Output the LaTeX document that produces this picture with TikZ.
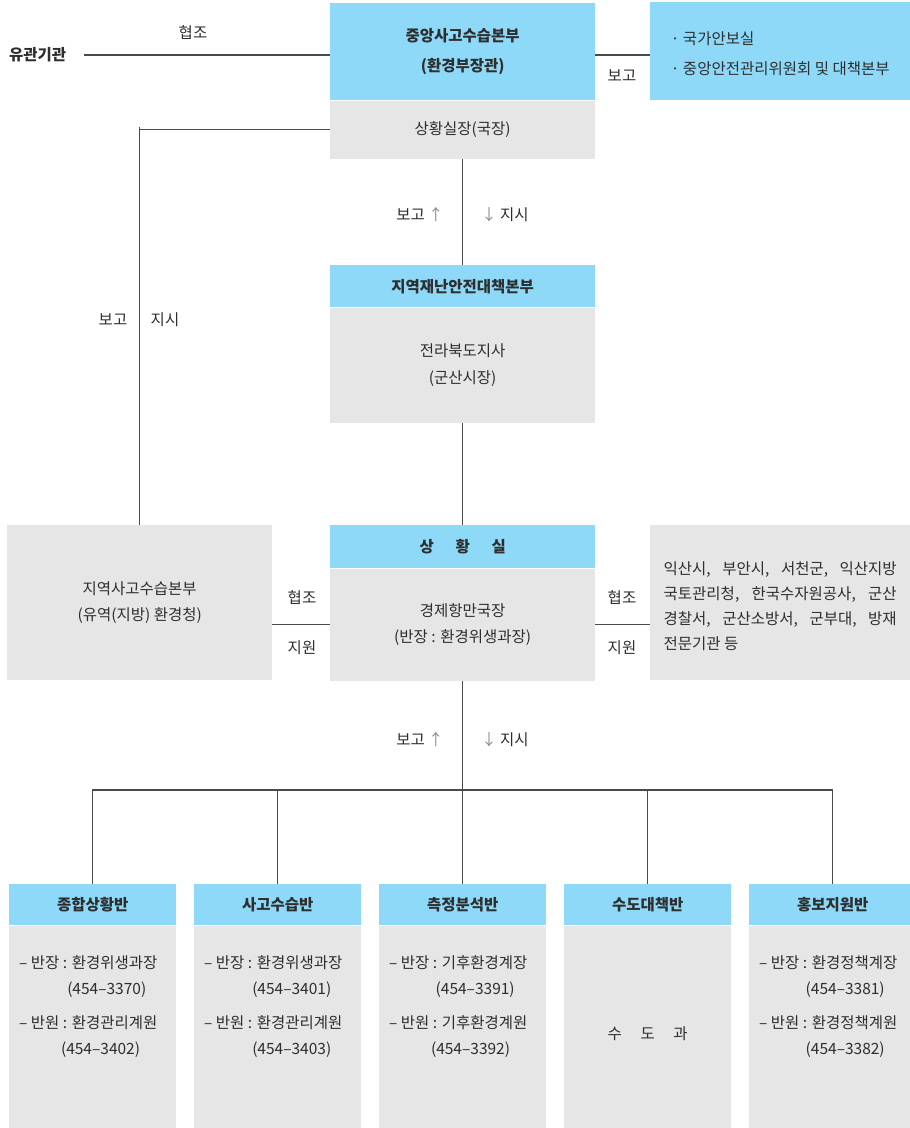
\documentclass[tikz,border=0pt]{standalone}
\usepackage{fontspec}
\setmainfont{Noto Sans CJK KR}
\usetikzlibrary{positioning}
\definecolor{skyblue}{HTML}{8ED8F8}
\definecolor{panel}{HTML}{E6E6E6}
\definecolor{ink}{HTML}{2E2E2E}
\definecolor{wire}{HTML}{4A4A4A}
\definecolor{arrowgray}{HTML}{8C8C8C}
\newcommand{\fsmain}{\fontsize{15.5}{26}\selectfont}
\newcommand{\teamlist}[6]{– 반장 : #3\\\hspace*{#1}(#4)\\[8pt]– 반원 : #5\\\hspace*{#2}(#6)}
\tikzset{
  headbox/.style={fill=skyblue,inner sep=0pt,minimum width=265pt,
                  align=center,font=\fsmain\bfseries,text=ink},
  bodybox/.style={fill=panel,inner sep=0pt,minimum width=265pt,
                  align=center,font=\fsmain,text=ink},
  link/.style={draw=wire,line width=1.2pt},
  tag/.style={font=\fsmain,text=ink,inner sep=1pt},
  teamtext/.style={tag,align=left,anchor=north west}
}

\begin{document}
\begin{tikzpicture}[x=1pt,y=-1pt]
  \useasboundingbox (0,0) rectangle (910,1128);
  % central headquarters
  \node[headbox,minimum height=97pt,anchor=north west] (hq) at (330,3)
    {중앙사고수습본부\\[4pt](환경부장관)};
  \node[bodybox,minimum height=58pt,below=0pt of hq] (hqroom) {상황실장(국장)};
  \node[headbox,minimum width=260pt,minimum height=98pt,anchor=north west] (nat) at (650,2) {};
  \node[tag,align=left] (nattext) at ([yshift=-2pt]nat.center)
    {· 국가안보실\\[4pt]· 중앙안전관리위원회 및 대책본부};
  \node[tag,font=\fsmain\bfseries,anchor=west] (agency) at (8,55) {유관기관};
  \draw[link] ([xshift=17pt]agency.east) -- (agency.east -| hq.west);
  \node[tag] at (193,33) {협조};
  \draw[link] (agency.east -| hq.east) -- (agency.east -| nat.west);
  \node[tag] at (622,76) {보고};

  % regional disaster headquarters
  \node[headbox,minimum height=42pt,anchor=north west] (dmb) at (330,265)
    {지역재난안전대책본부};
  \node[bodybox,minimum height=115pt,below=0pt of dmb] (dmbbody)
    {전라북도지사\\[1pt](군산시장)};
  \draw[link] (hqroom.south) -- (dmb.north);
  \node[tag] at (420,215) {보고 \textcolor{arrowgray}{↑}};
  \node[tag] at (505,215) {\textcolor{arrowgray}{↓} 지시};

  % situation room and partners
  \node[headbox,minimum height=43pt,anchor=north west] (sit) at (330,525)
    {상\hspace{1.4em}황\hspace{1.4em}실};
  \node[bodybox,minimum height=112pt,below=0pt of sit] (sitbody)
    {경제항만국장\\(반장 : 환경위생과장)};
  \draw[link] (dmbbody.south) -- (sit.north);
  \node[bodybox,minimum height=155pt,anchor=north west] (regional) at (7,525)
    {지역사고수습본부\\(유역(지방) 환경청)};
  \node[bodybox,minimum width=260pt,minimum height=155pt,anchor=north west] (local) at (650,525) {};
  \node[tag,align=left,font=\fontsize{15.5}{25}\selectfont] (localtext) at ([yshift=-3pt]local.center)
    {\makebox[233pt][s]{익산시, 부안시, 서천군, 익산지방}\\
     \makebox[233pt][s]{국토관리청, 한국수자원공사, 군산}\\
     \makebox[233pt][s]{경찰서, 군산소방서, 군부대, 방재}\\
     전문기관 등};
  \draw[link] (hqroom.west) -| (regional.north);
  \draw[link] (regional.north |- hqroom.west) -- ++(0,-3);
  \node[tag] at (113,320) {보고};
  \node[tag] at (165,320) {지시};
  \draw[link] (sitbody.west -| regional.east) -- (sitbody.west);
  \node[tag] at (302,598) {협조};
  \node[tag] at (302,648) {지원};
  \draw[link] (sitbody.east) -- (sitbody.east -| local.west);
  \node[tag] at (622,598) {협조};
  \node[tag] at (622,648) {지원};

  % working teams
  \foreach \n/\x/\title in {1/9/종합상황반,2/194/사고수습반,3/379/측정분석반,
                            4/564/수도대책반,5/749/홍보지원반} {
    \node[headbox,minimum width=167pt,minimum height=41pt,anchor=north west]
      (team\n) at (\x,884) {\title};
    \node[bodybox,minimum width=167pt,minimum height=204pt,below=0pt of team\n]
      (body\n) {};
  }
  \coordinate (hub) at (sitbody.south |- 0,790);
  \draw[link] (sitbody.south) -- (hub);
  \draw[link] (team1.north) |- (team5.north |- hub) -- (team5.north);
  \foreach \n in {2,3,4}
    \draw[link] (team\n.north) -- (team\n.north |- hub);
  \node[tag] at (420,740) {보고 \textcolor{arrowgray}{↑}};
  \node[tag] at (505,740) {\textcolor{arrowgray}{↓} 지시};

  \node[teamtext] (list1) at ([xshift=9pt,yshift=-29pt]body1.north west)
    {\teamlist{3.1em}{2.7em}{환경위생과장}{454–3370}{환경관리계원}{454–3402}};
  \node[teamtext] (list2) at ([xshift=9pt,yshift=-29pt]body2.north west)
    {\teamlist{3.1em}{3.1em}{환경위생과장}{454–3401}{환경관리계원}{454–3403}};
  \node[teamtext] (list3) at ([xshift=9pt,yshift=-29pt]body3.north west)
    {\teamlist{3.0em}{2.7em}{기후환경계장}{454–3391}{기후환경계원}{454–3392}};
  \node[tag] (list4) at ([yshift=-6pt]body4.center) {수\hspace{1.2em}도\hspace{1.2em}과};
  \node[teamtext] (list5) at ([xshift=9pt,yshift=-29pt]body5.north west)
    {\teamlist{3.0em}{3.0em}{환경정책계장}{454–3381}{환경정책계원}{454–3382}};
\end{tikzpicture}
\end{document}
